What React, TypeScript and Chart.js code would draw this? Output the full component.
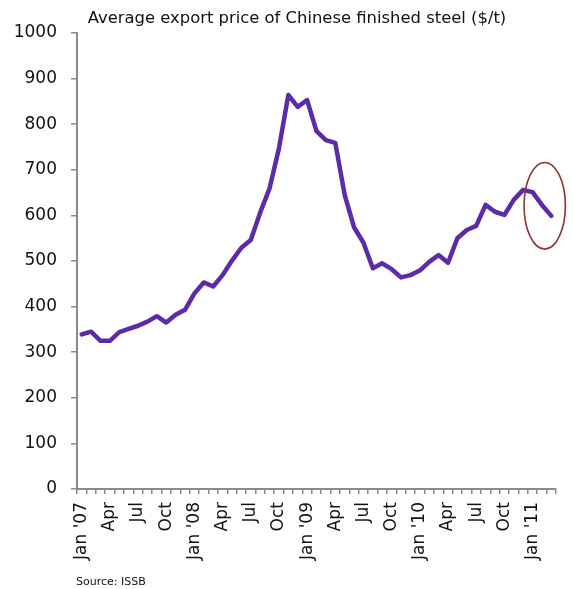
import React, { useEffect, useRef } from "react";
import { Chart, registerables } from "chart.js";

Chart.register(...registerables);

const monthNames = ["Jan", "Feb", "Mar", "Apr", "May", "Jun", "Jul", "Aug", "Sep", "Oct", "Nov", "Dec"];
const years = ["'07", "'08", "'09", "'10", "'11"];

// Monthly categories Jan 2007 .. Mar 2011
const categories: string[] = [];
years.forEach((y) => {
  monthNames.forEach((m) => {
    if (categories.length < 51) categories.push(m + " " + y);
  });
});

// Tick labels shown every quarter
const shownTicks = ["Jan '07", "Apr", "Jul", "Oct", "Jan '08", "Apr", "Jul", "Oct", "Jan '09", "Apr", "Jul", "Oct", "Jan '10", "Apr", "Jul", "Oct", "Jan '11"];

const exportPrice = [
  339, 345, 325, 325, 344, 351, 358, 367, 379, 365, 382, 393,
  429, 453, 444, 469, 501, 529, 546, 606, 659, 747, 864, 838,
  853, 785, 765, 759, 645, 574, 540, 484, 495, 482, 464, 469,
  479, 498, 513, 496, 550, 568, 577, 623, 608, 601, 634, 656,
  651, 623, 599,
];

const yTicks = [0, 100, 200, 300, 400, 500, 600, 700, 800, 900, 1000];

// Highlight ellipse (in data units: category index, value)
const highlightCenter = [49.3, 621];
const highlightRadius = [2.2, 95];

const titleText = "Average export price of Chinese finished steel ($/t)";
const sourceText = "Source: ISSB";

const FONT = "'DejaVu Sans', sans-serif";

const decorPlugin = {
  id: "decor",
  afterDatasetsDraw(chart: any) {
    const { ctx, scales } = chart;
    const x = scales.x;
    const y = scales.y;
    const cx = x.getPixelForValue(highlightCenter[0]);
    const cy = y.getPixelForValue(highlightCenter[1]);
    const rx = Math.abs(x.getPixelForValue(highlightCenter[0] + highlightRadius[0]) - cx);
    const ry = Math.abs(y.getPixelForValue(highlightCenter[1] + highlightRadius[1]) - cy);
    ctx.save();
    ctx.beginPath();
    ctx.ellipse(cx, cy, rx, ry, 0, 0, Math.PI * 2);
    ctx.strokeStyle = "#8B3535";
    ctx.lineWidth = 1.6;
    ctx.stroke();
    ctx.restore();
  },
  afterDraw(chart: any) {
    const { ctx, chartArea } = chart;
    ctx.save();
    ctx.fillStyle = "#111";
    ctx.font = "16.4px " + FONT;
    ctx.textAlign = "center";
    ctx.textBaseline = "middle";
    ctx.fillText(titleText, chartArea.left + 220, 19);
    ctx.font = "11px " + FONT;
    ctx.textAlign = "left";
    ctx.fillText(sourceText, chartArea.left - 1, 582);
    ctx.restore();
  },
};

export default function App() {
  const ref = useRef<HTMLCanvasElement | null>(null);
  useEffect(() => {
    if (!ref.current) return;
    const chart = new Chart(ref.current, {
      type: "line",
      data: {
        labels: categories,
        datasets: [
          {
            data: exportPrice,
            borderColor: "#5C2BA8",
            borderWidth: 4.5,
            pointRadius: 0,
            tension: 0,
            borderJoinStyle: "round",
            borderCapStyle: "round",
            fill: false,
          },
        ],
      },
      options: {
        animation: false,
        responsive: false,
        maintainAspectRatio: false,
        layout: { padding: { left: 0, right: 17, top: 33, bottom: 0 } },
        plugins: {
          legend: { display: false },
          tooltip: { enabled: false },
          title: { display: false },
        },
        scales: {
          x: {
            type: "category",
            offset: true,
            afterFit(scale: any) {
              scale.height = 100;
              scale.paddingRight = 0;
              scale.paddingLeft = 0;
            },
            border: { display: true, color: "#8a8a8a", width: 2 },
            grid: {
              display: true,
              offset: true,
              drawOnChartArea: false,
              drawTicks: true,
              tickLength: 5,
              color: "#8a8a8a",
              lineWidth: 1.5,
            },
            ticks: {
              autoSkip: false,
              minRotation: 90,
              maxRotation: 90,
              padding: 8,
              color: "#111",
              font: { family: FONT, size: 17 },
              callback: (_v: any, i: number) => (i % 3 === 0 ? shownTicks[i / 3] : ""),
            },
          },
          y: {
            min: 0,
            max: 1000,
            afterFit(scale: any) {
              scale.width = 77;
              scale.paddingTop = 0;
              scale.paddingBottom = 0;
            },
            afterBuildTicks(scale: any) {
              scale.ticks = yTicks.map((v) => ({ value: v }));
            },
            border: { display: true, color: "#8a8a8a", width: 2 },
            grid: {
              display: true,
              drawOnChartArea: false,
              drawTicks: true,
              tickLength: 6,
              color: "#8a8a8a",
              lineWidth: 1.5,
            },
            ticks: {
              padding: 14,
              color: "#111",
              font: { family: FONT, size: 17 },
              callback: (v: any) => String(v),
            },
          },
        },
      },
      plugins: [decorPlugin],
    } as any);
    return () => chart.destroy();
  }, []);
  return (
    <div style={{ position: "fixed", left: 0, top: 0, width: 573, height: 589, background: "#fff" }}>
      <canvas ref={ref} width={573} height={589} style={{ width: 573, height: 589, display: "block" }} />
    </div>
  );
}
